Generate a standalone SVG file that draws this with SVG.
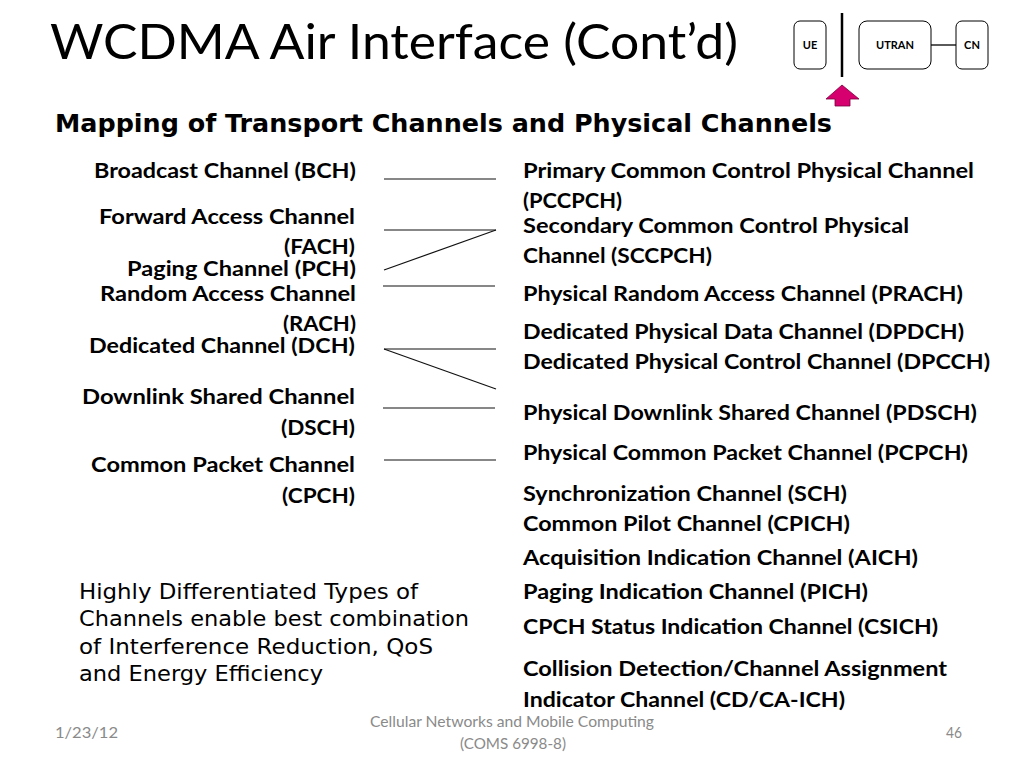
<svg xmlns="http://www.w3.org/2000/svg" width="1024" height="768" viewBox="0 0 1024 768">
<style>
.t{font-family:Lato,"Open Sans","Liberation Sans",sans-serif;fill:#000}
.b{font-family:Lato,"Open Sans","Liberation Sans",sans-serif;font-weight:bold;font-size:21px;fill:#000}
.r{text-anchor:end}
.h{font-family:"DejaVu Sans",Verdana,sans-serif;font-weight:bold;font-size:24px;fill:#000}
.p{font-family:"DejaVu Sans",Verdana,sans-serif;font-size:21px;fill:#000}
.f{font-family:Lato,"Open Sans","Liberation Sans",sans-serif;font-size:15px;fill:#8a8a8a}
.box{fill:#fff;stroke:#000;stroke-width:1}
.sm{font-family:Lato,"Liberation Sans",sans-serif;font-weight:bold;font-size:11px;text-anchor:middle;fill:#000}
.dl{stroke:#111;stroke-width:1.2;fill:none}
</style>
<rect width="1024" height="768" fill="#fff"/>
<text id="title" class="t" x="50" y="59" font-size="48" textLength="688" lengthAdjust="spacingAndGlyphs">WCDMA Air Interface (Cont’d)</text>

<g id="ue"><rect class="box" x="794" y="21" width="32" height="48" rx="6"/><text class="sm" x="810" y="49">UE</text></g>
<g id="utran"><rect class="box" x="859" y="21" width="72" height="48" rx="8"/><text class="sm" x="895" y="49">UTRAN</text></g>
<g id="cn"><rect class="box" x="956" y="21" width="32" height="48" rx="6"/><text class="sm" x="972" y="49">CN</text></g>
<g id="links">
<line x1="931" y1="45" x2="956" y2="45" stroke="#000" stroke-width="1.3"/>
<line x1="842" y1="13" x2="842" y2="77" stroke="#000" stroke-width="2.5"/>
</g>
<g id="arrow"><polygon points="842,85 859,99 850,99 850,106 835,106 835,99 826,99" fill="#d6006f" stroke="#7a003e" stroke-width="0.8"/></g>

<text id="subtitle" class="h" x="55" y="132" textLength="777" lengthAdjust="spacingAndGlyphs">Mapping of Transport Channels and Physical Channels</text>

<g id="connectors">
<line class="dl" x1="384" y1="179" x2="496" y2="179"/>
<line class="dl" x1="384" y1="230" x2="496" y2="230"/>
<line class="dl" x1="384" y1="270" x2="496" y2="230"/>
<line class="dl" x1="383" y1="286" x2="495" y2="286"/>
<line class="dl" x1="384" y1="349" x2="496" y2="349"/>
<line class="dl" x1="384" y1="349" x2="496" y2="389"/>
<line class="dl" x1="383" y1="408" x2="495" y2="408"/>
<line class="dl" x1="384" y1="460" x2="496" y2="460"/>
</g>

<g id="transport">
<text class="b r" x="356" y="178" textLength="262" lengthAdjust="spacingAndGlyphs">Broadcast Channel (BCH)</text>
<text class="b r" x="355" y="224" textLength="256" lengthAdjust="spacingAndGlyphs">Forward Access Channel</text>
<text class="b r" x="355" y="254" textLength="71" lengthAdjust="spacingAndGlyphs">(FACH)</text>
<text class="b r" x="356" y="276" textLength="229" lengthAdjust="spacingAndGlyphs">Paging Channel (PCH)</text>
<text class="b r" x="356" y="301" textLength="256" lengthAdjust="spacingAndGlyphs">Random Access Channel</text>
<text class="b r" x="356" y="331" textLength="73" lengthAdjust="spacingAndGlyphs">(RACH)</text>
<text class="b r" x="355" y="353" textLength="266" lengthAdjust="spacingAndGlyphs">Dedicated Channel (DCH)</text>
<text class="b r" x="355" y="404" textLength="273" lengthAdjust="spacingAndGlyphs">Downlink Shared Channel</text>
<text class="b r" x="355" y="435" textLength="74" lengthAdjust="spacingAndGlyphs">(DSCH)</text>
<text class="b r" x="355" y="472" textLength="264" lengthAdjust="spacingAndGlyphs">Common Packet Channel</text>
<text class="b r" x="355" y="503" textLength="73" lengthAdjust="spacingAndGlyphs">(CPCH)</text>
</g>

<g id="physical">
<text class="b" x="523" y="178" textLength="451" lengthAdjust="spacingAndGlyphs">Primary Common Control Physical Channel</text>
<text class="b" x="523" y="208" textLength="99" lengthAdjust="spacingAndGlyphs">(PCCPCH)</text>
<text class="b" x="523" y="233" textLength="386" lengthAdjust="spacingAndGlyphs">Secondary Common Control Physical</text>
<text class="b" x="523" y="263" textLength="189" lengthAdjust="spacingAndGlyphs">Channel (SCCPCH)</text>
<text class="b" x="523" y="301" textLength="440" lengthAdjust="spacingAndGlyphs">Physical Random Access Channel (PRACH)</text>
<text class="b" x="523" y="339" textLength="441" lengthAdjust="spacingAndGlyphs">Dedicated Physical Data Channel (DPDCH)</text>
<text class="b" x="523" y="369" textLength="467" lengthAdjust="spacingAndGlyphs">Dedicated Physical Control Channel (DPCCH)</text>
<text class="b" x="523" y="420" textLength="454" lengthAdjust="spacingAndGlyphs">Physical Downlink Shared Channel (PDSCH)</text>
<text class="b" x="523" y="460" textLength="445" lengthAdjust="spacingAndGlyphs">Physical Common Packet Channel (PCPCH)</text>
<text class="b" x="523" y="501" textLength="324" lengthAdjust="spacingAndGlyphs">Synchronization Channel (SCH)</text>
<text class="b" x="523" y="531" textLength="327" lengthAdjust="spacingAndGlyphs">Common Pilot Channel (CPICH)</text>
<text class="b" x="523" y="565" textLength="395" lengthAdjust="spacingAndGlyphs">Acquisition Indication Channel (AICH)</text>
<text class="b" x="523" y="599" textLength="345" lengthAdjust="spacingAndGlyphs">Paging Indication Channel (PICH)</text>
<text class="b" x="523" y="634" textLength="415" lengthAdjust="spacingAndGlyphs">CPCH Status Indication Channel (CSICH)</text>
<text class="b" x="523" y="676" textLength="424" lengthAdjust="spacingAndGlyphs">Collision Detection/Channel Assignment</text>
<text class="b" x="523" y="707" textLength="322" lengthAdjust="spacingAndGlyphs">Indicator Channel (CD/CA-ICH)</text>
</g>

<g id="note">
<text class="p" x="79" y="599" textLength="339" lengthAdjust="spacingAndGlyphs">Highly Differentiated Types of</text>
<text class="p" x="79" y="626" textLength="390" lengthAdjust="spacingAndGlyphs">Channels enable best combination</text>
<text class="p" x="79" y="654" textLength="354" lengthAdjust="spacingAndGlyphs">of Interference Reduction, QoS</text>
<text class="p" x="79" y="681" textLength="244" lengthAdjust="spacingAndGlyphs">and Energy Efficiency</text>
</g>

<g id="footer">
<text class="f" x="55" y="738" textLength="63" lengthAdjust="spacingAndGlyphs">1/23/12</text>
<text class="f" x="512" y="727" text-anchor="middle" textLength="284" lengthAdjust="spacingAndGlyphs">Cellular Networks and Mobile Computing</text>
<text class="f" x="513" y="749" text-anchor="middle" textLength="106" lengthAdjust="spacingAndGlyphs">(COMS 6998-8)</text>
<text class="f" x="946" y="738" textLength="16" lengthAdjust="spacingAndGlyphs">46</text>
</g>
</svg>
